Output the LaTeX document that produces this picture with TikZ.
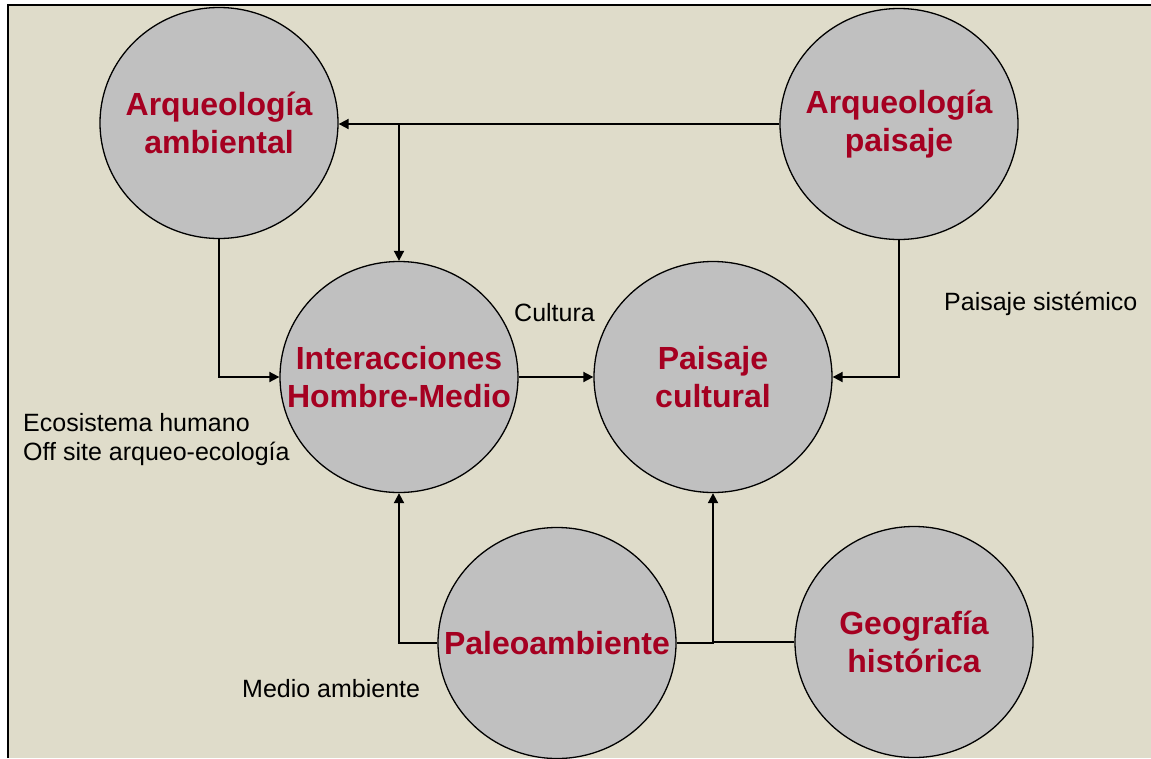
\documentclass[tikz,border=0pt]{standalone}
\usepackage{fontspec}
\setmainfont{Liberation Sans}
\usetikzlibrary{shapes.geometric,arrows.meta}
\definecolor{bgbeige}{HTML}{DFDCCA}
\definecolor{bubgray}{HTML}{C0C0C0}
\definecolor{titred}{HTML}{A50021}
\tikzset{
  bub/.style={ellipse, draw=black, line width=1.3pt, fill=bubgray,
    minimum width=238pt, minimum height=231pt, inner sep=0pt},
  bubtxt/.style={align=center, text=titred, inner sep=0pt,
    font=\fontsize{32}{38}\selectfont\bfseries},
  conn/.style={line width=1.8pt, draw=black},
  arr/.style={conn, -{Triangle[length=10pt,width=10pt]}},
  note/.style={inner sep=0pt, font=\fontsize{25}{30}\selectfont, anchor=base west}
}
\begin{document}
\begin{tikzpicture}[x=1pt,y=-1pt]
\useasboundingbox (0,0) rectangle (1151,758);
\fill[white] (0,0) rectangle (1151,758);
\fill[bgbeige] (8,5) rectangle (1151,758);
\draw[line width=2pt] (8,758) -- (8,5) -- (1151,5);

\node[bub, label={[bubtxt]center:{Arqueología\\ambiental}}] (amb) at (219,123) {};
\node[bub, label={[bubtxt]center:{Arqueología\\paisaje}}] (pai) at (899,124) {};
\node[bub, label={[bubtxt]center:{Interacciones\\Hombre-Medio}}] (inter) at (399,377) {};
\node[bub, label={[bubtxt]center:{Paisaje\\cultural}}] (cult) at (713,377) {};
\node[bub, label={[bubtxt]center:{Paleoambiente}}] (paleo) at (557,643) {};
\node[bub, label={[bubtxt]center:{Geografía\\histórica}}] (geo) at (914,642) {};

\coordinate (j1) at (560,124);
\draw[arr] (pai.west) -- (amb.east |- pai.west);
\draw[arr] (j1) -| (inter.north);
\draw[arr] (amb.south) |- (inter.west);
\draw[arr] (inter.east) -- (cult.west);
\draw[arr] (pai.south) |- (cult.east);
\draw[arr] (paleo.west) -| (inter.south);
\draw[arr] (paleo.east) -| (cult.south);
\coordinate (j2) at (cult.south |- geo.west);
\draw[conn] (geo.west) -- (j2);

\node[note] (tcult) at (514,321) {Cultura};
\node[note] (tsist) at (944,310) {Paisaje sistémico};
\node[note] (teco) at (23,431) {Ecosistema humano};
\node[note] (toff) at (23,460) {Off site arqueo-ecología};
\node[note] (tmed) at (242,697) {Medio ambiente};
\end{tikzpicture}
\end{document}
